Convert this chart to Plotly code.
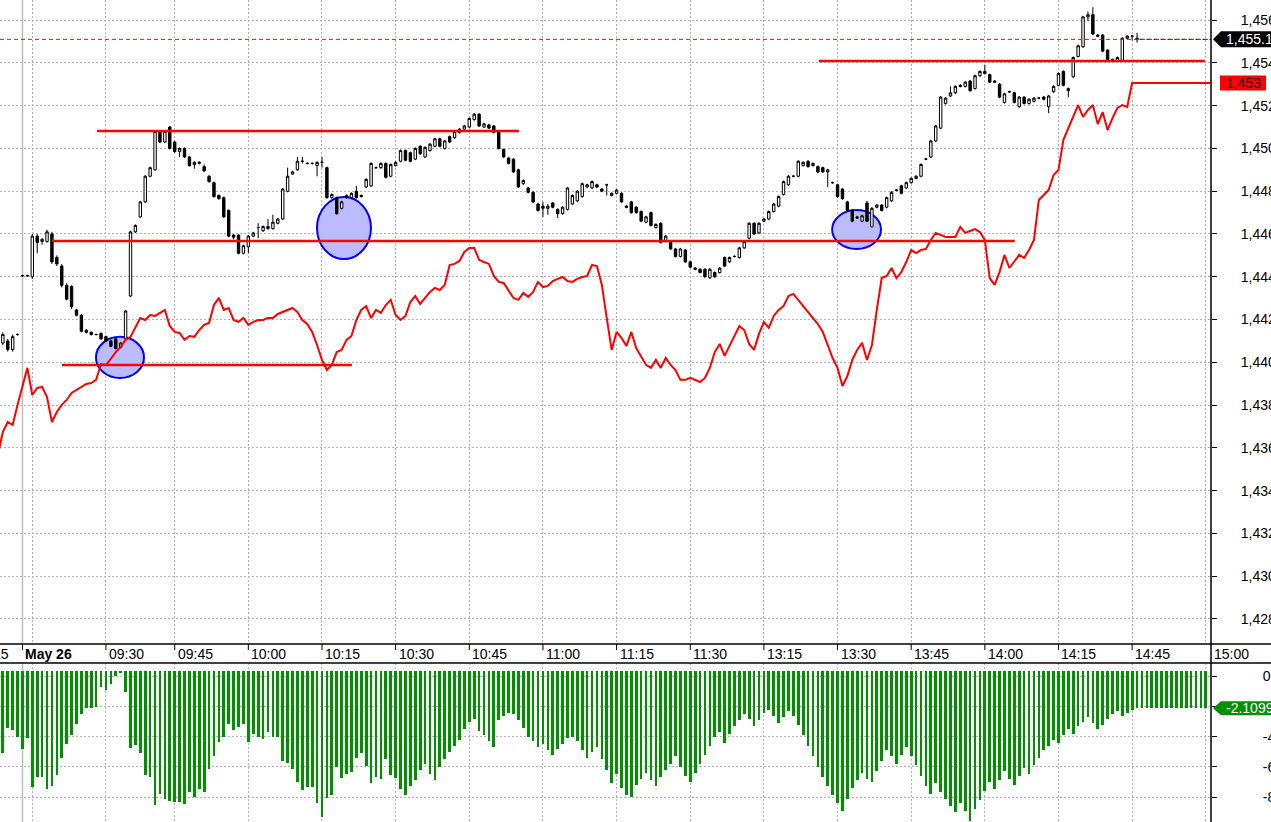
import plotly.graph_objects as go

# ---------------- data ----------------
candle_start = -6   # bar index of first candle (1-minute bars)
opens = [
    1440.9, 1441.0, 1440.6, 1441.3, 1444.05, 1444.05, 1444.0, 1445.9, 1445.65, 1445.65,
    1446.0, 1444.9, 1444.5, 1443.6, 1443.55, 1442.45, 1442.2, 1441.5, 1441.4, 1441.3,
    1441.35, 1441.2, 1441.0, 1441.1, 1440.7, 1441.1, 1443.1, 1446.1, 1446.8, 1447.5,
    1448.7, 1449.0, 1450.8, 1450.3, 1451.0, 1450.3, 1449.85, 1450.0, 1449.6, 1449.25,
    1449.3, 1449.15, 1448.7, 1448.4, 1447.8, 1447.7, 1447.1, 1445.95, 1445.95, 1445.1,
    1445.4, 1445.9, 1446.3, 1446.15, 1446.25, 1446.25, 1446.5, 1446.7, 1448.0, 1448.8,
    1449.0, 1449.4, 1449.3, 1449.3, 1449.2, 1449.35, 1449.1, 1447.7, 1447.7, 1447.2,
    1447.7, 1447.7, 1448.0, 1447.75, 1448.2, 1448.25, 1449.1, 1449.1, 1449.3, 1448.7,
    1449.2, 1449.4, 1449.9, 1449.8, 1449.5, 1450.1, 1449.6, 1449.9, 1450.1, 1450.45,
    1450.0, 1450.55, 1450.5, 1450.75, 1450.9, 1451.0, 1451.35, 1451.6, 1451.0, 1451.1,
    1451.05, 1450.8, 1449.95, 1449.55, 1449.5, 1449.0, 1448.35, 1448.15, 1447.95, 1447.4,
    1447.3, 1447.2, 1447.45, 1447.15, 1446.95, 1447.15, 1447.4, 1447.55, 1447.75, 1448.2,
    1448.15, 1448.3, 1448.1, 1448.3, 1447.8, 1447.9, 1447.9, 1447.3, 1447.5, 1447.25,
    1447.05, 1446.55, 1447.0, 1446.3, 1446.5, 1445.65, 1445.65, 1445.3, 1444.95, 1445.25,
    1444.7, 1444.4, 1444.35, 1444.35, 1443.95, 1444.2, 1444.2, 1444.9, 1444.7, 1444.95,
    1444.9, 1445.35, 1445.8, 1446.5, 1446.05, 1446.6, 1446.7, 1447.05, 1447.3, 1447.85,
    1448.3, 1448.7, 1448.7, 1449.2, 1449.4, 1449.2, 1449.15, 1449.1, 1448.9, 1448.4,
    1448.3, 1448.1, 1447.5, 1447.1, 1446.8, 1446.6, 1447.45, 1446.35, 1447.25, 1447.35,
    1447.25, 1447.55, 1448.05, 1448.25, 1448.15, 1448.4, 1448.6, 1448.7, 1449.5, 1449.6,
    1450.35, 1450.95, 1452.1, 1452.45, 1452.6, 1452.95, 1452.9, 1453.15, 1452.8, 1453.4,
    1453.6, 1453.45, 1453.15, 1453.0, 1452.15, 1452.65, 1452.6, 1451.95, 1452.4, 1452.1,
    1452.2, 1452.35, 1452.4, 1451.95, 1452.65, 1452.95, 1453.6, 1452.7, 1453.35, 1454.3,
    1454.75, 1456.15, 1456.25, 1455.3, 1455.3, 1454.6, 1454.15, 1454.1, 1454.1, 1455.15,
    1455.25, 1455.15,
]
highs = [
    1441.4, 1441.1, 1441.3, 1441.35, 1444.1, 1444.1, 1446.0, 1446.0, 1445.8, 1446.2,
    1446.1, 1445.0, 1444.6, 1443.7, 1443.6, 1442.5, 1442.25, 1441.55, 1441.45, 1441.35,
    1441.4, 1441.25, 1441.05, 1441.15, 1440.95, 1442.45, 1446.15, 1446.45, 1447.55, 1448.75,
    1449.15, 1450.85, 1450.85, 1450.85, 1451.05, 1450.35, 1450.05, 1450.05, 1449.65, 1449.4,
    1449.4, 1449.25, 1448.75, 1448.45, 1447.85, 1447.75, 1447.15, 1446.0, 1446.0, 1445.5,
    1445.95, 1446.1, 1446.5, 1446.4, 1446.7, 1446.9, 1446.75, 1448.15, 1449.1, 1448.95,
    1449.6, 1449.6, 1449.35, 1449.35, 1449.4, 1449.6, 1449.15, 1447.9, 1447.75, 1447.55,
    1447.85, 1447.95, 1448.25, 1447.85, 1448.6, 1449.35, 1449.15, 1449.35, 1449.35, 1449.3,
    1449.4, 1449.95, 1449.95, 1449.85, 1450.05, 1450.15, 1450.1, 1450.25, 1450.5, 1450.5,
    1450.4, 1450.6, 1450.85, 1450.95, 1451.1, 1451.45, 1451.65, 1451.65, 1451.2, 1451.15,
    1451.1, 1450.85, 1450.0, 1449.6, 1449.55, 1449.05, 1448.55, 1448.2, 1448.0, 1447.45,
    1447.5, 1447.4, 1447.5, 1447.2, 1447.3, 1448.2, 1447.85, 1448.05, 1448.4, 1448.35,
    1448.5, 1448.35, 1448.15, 1448.35, 1447.95, 1448.1, 1447.95, 1447.35, 1447.55, 1447.3,
    1447.1, 1446.85, 1447.05, 1446.5, 1446.55, 1445.95, 1445.7, 1445.35, 1445.35, 1445.3,
    1444.75, 1444.45, 1444.4, 1444.4, 1444.4, 1444.25, 1444.45, 1444.95, 1444.95, 1445.0,
    1445.4, 1445.7, 1446.55, 1446.55, 1446.55, 1446.75, 1447.1, 1447.45, 1447.8, 1448.5,
    1448.75, 1448.75, 1449.45, 1449.4, 1449.45, 1449.35, 1449.2, 1449.15, 1449.05, 1448.45,
    1448.35, 1448.15, 1447.55, 1447.15, 1446.85, 1446.9, 1447.55, 1447.25, 1447.4, 1447.4,
    1447.75, 1448.0, 1448.1, 1448.3, 1448.45, 1448.65, 1448.75, 1449.3, 1449.55, 1450.4,
    1451.1, 1452.45, 1452.4, 1452.9, 1452.95, 1453.0, 1453.15, 1453.2, 1453.45, 1453.65,
    1453.9, 1453.5, 1453.2, 1453.05, 1452.6, 1452.7, 1452.65, 1452.45, 1452.45, 1452.35,
    1452.4, 1452.4, 1452.45, 1452.5, 1452.95, 1453.55, 1453.65, 1452.85, 1454.3, 1454.85,
    1456.2, 1456.4, 1456.6, 1455.35, 1455.35, 1454.65, 1454.2, 1454.3, 1455.2, 1455.3,
    1455.3, 1455.4,
]
lows = [
    1440.8, 1440.5, 1440.5, 1441.25, 1444.0, 1444.0, 1443.9, 1445.1, 1445.5, 1445.6,
    1444.6, 1444.5, 1443.5, 1442.9, 1442.5, 1442.15, 1441.4, 1441.35, 1441.25, 1441.25,
    1441.05, 1440.95, 1440.7, 1440.6, 1440.65, 1441.05, 1443.05, 1446.05, 1446.75, 1447.45,
    1448.65, 1448.95, 1450.25, 1450.25, 1449.95, 1449.8, 1449.6, 1449.55, 1449.15, 1449.05,
    1449.25, 1448.9, 1448.4, 1447.7, 1447.6, 1446.75, 1445.85, 1445.75, 1445.05, 1445.05,
    1445.1, 1445.85, 1445.8, 1446.1, 1446.2, 1446.2, 1446.45, 1446.65, 1447.95, 1448.75,
    1448.95, 1449.3, 1449.25, 1449.25, 1448.7, 1449.1, 1447.65, 1447.65, 1446.9, 1447.15,
    1447.65, 1447.65, 1447.65, 1447.7, 1448.15, 1448.2, 1449.05, 1449.05, 1448.6, 1448.65,
    1449.15, 1449.35, 1449.4, 1449.35, 1449.45, 1449.7, 1449.55, 1449.85, 1450.05, 1450.05,
    1449.95, 1450.25, 1450.45, 1450.7, 1450.85, 1450.95, 1451.3, 1451.0, 1450.95, 1450.9,
    1450.7, 1449.95, 1449.55, 1449.25, 1448.85, 1448.15, 1448.3, 1447.9, 1447.45, 1447.05,
    1446.8, 1446.9, 1447.2, 1446.75, 1446.9, 1447.1, 1447.35, 1447.5, 1447.7, 1448.15,
    1448.1, 1448.15, 1447.95, 1447.8, 1447.75, 1447.85, 1447.45, 1447.2, 1446.95, 1446.95,
    1446.55, 1446.5, 1446.35, 1446.25, 1445.55, 1445.6, 1445.25, 1444.9, 1444.9, 1444.65,
    1444.4, 1444.3, 1444.15, 1443.95, 1443.9, 1443.95, 1444.15, 1444.45, 1444.65, 1444.9,
    1444.85, 1445.3, 1445.75, 1445.95, 1446.0, 1446.55, 1446.65, 1447.0, 1447.25, 1447.8,
    1448.25, 1448.65, 1448.65, 1449.15, 1449.1, 1449.15, 1448.85, 1448.85, 1448.2, 1448.35,
    1447.7, 1447.6, 1447.05, 1446.55, 1446.7, 1446.55, 1446.55, 1446.3, 1447.2, 1447.05,
    1447.2, 1447.5, 1448.0, 1447.85, 1448.1, 1448.35, 1448.55, 1448.65, 1449.45, 1449.55,
    1450.3, 1450.9, 1452.05, 1452.4, 1452.55, 1452.85, 1452.85, 1452.65, 1452.75, 1453.35,
    1453.45, 1453.05, 1453.05, 1452.35, 1452.1, 1452.6, 1452.1, 1451.9, 1452.05, 1452.05,
    1452.15, 1452.3, 1452.25, 1451.65, 1452.6, 1452.9, 1452.9, 1452.4, 1453.3, 1454.25,
    1454.7, 1455.95, 1455.3, 1455.2, 1454.5, 1454.1, 1454.1, 1454.05, 1454.05, 1455.1,
    1455.05, 1454.95,
]
closes = [
    1441.3, 1440.6, 1441.2, 1441.3, 1444.05, 1444.05, 1445.9, 1445.6, 1445.75, 1446.1,
    1444.7, 1444.6, 1443.6, 1442.95, 1442.6, 1442.2, 1441.45, 1441.4, 1441.3, 1441.3,
    1441.1, 1441.0, 1440.75, 1440.65, 1440.9, 1442.4, 1446.1, 1446.4, 1447.5, 1448.7,
    1449.1, 1450.8, 1450.3, 1450.8, 1450.0, 1449.85, 1450.0, 1449.6, 1449.2, 1449.35,
    1449.35, 1448.95, 1448.45, 1447.75, 1447.65, 1446.8, 1445.9, 1445.85, 1445.1, 1445.45,
    1445.9, 1446.05, 1446.3, 1446.35, 1446.35, 1446.55, 1446.7, 1448.1, 1448.7, 1448.9,
    1449.4, 1449.4, 1449.3, 1449.3, 1449.35, 1449.35, 1447.7, 1447.85, 1446.95, 1447.5,
    1447.8, 1447.9, 1447.7, 1447.8, 1448.55, 1449.3, 1449.1, 1449.3, 1448.65, 1449.25,
    1449.35, 1449.9, 1449.45, 1449.4, 1450.0, 1449.75, 1450.05, 1450.2, 1450.45, 1450.1,
    1450.35, 1450.3, 1450.8, 1450.9, 1451.05, 1451.4, 1451.6, 1451.05, 1451.15, 1450.95,
    1450.75, 1450.0, 1449.6, 1449.3, 1448.9, 1448.2, 1448.5, 1447.95, 1447.5, 1447.1,
    1447.2, 1447.3, 1447.25, 1446.95, 1447.25, 1448.15, 1447.8, 1448.0, 1448.35, 1448.3,
    1448.45, 1448.2, 1448.0, 1448.3, 1447.9, 1448.05, 1447.5, 1447.25, 1447.0, 1447.0,
    1446.6, 1446.8, 1446.4, 1446.45, 1445.6, 1445.9, 1445.3, 1444.95, 1445.3, 1444.7,
    1444.45, 1444.35, 1444.2, 1444.0, 1444.35, 1444.0, 1444.4, 1444.5, 1444.9, 1444.95,
    1445.35, 1445.65, 1446.5, 1446.0, 1446.5, 1446.7, 1447.05, 1447.4, 1447.75, 1448.45,
    1448.7, 1448.7, 1449.4, 1449.35, 1449.15, 1449.3, 1448.9, 1448.9, 1449.0, 1448.4,
    1447.75, 1447.65, 1447.1, 1446.6, 1446.75, 1446.85, 1446.6, 1447.2, 1447.35, 1447.1,
    1447.7, 1447.95, 1448.05, 1447.9, 1448.4, 1448.6, 1448.7, 1449.25, 1449.5, 1450.35,
    1451.05, 1452.4, 1452.35, 1452.6, 1452.9, 1452.9, 1453.1, 1452.7, 1453.4, 1453.6,
    1453.5, 1453.1, 1453.1, 1452.4, 1452.55, 1452.65, 1452.15, 1452.4, 1452.1, 1452.3,
    1452.35, 1452.35, 1452.3, 1452.45, 1452.9, 1453.5, 1452.95, 1452.8, 1454.25, 1454.8,
    1456.15, 1456.25, 1455.35, 1455.25, 1454.55, 1454.15, 1454.15, 1454.25, 1455.15, 1455.25,
    1455.25, 1455.1,
]

red_start = -7
red_vals = [
    1435.67, 1436.74, 1437.21, 1437.07, 1438.01, 1438.94, 1439.74, 1438.47, 1438.80, 1438.85,
    1438.38, 1437.21, 1437.68, 1438.01, 1438.24, 1438.57, 1438.71, 1438.89, 1438.99, 1439.03,
    1439.18, 1439.92, 1439.88, 1440.16, 1440.48, 1440.72, 1441.05, 1441.19, 1441.65, 1442.07,
    1441.98, 1442.21, 1442.17, 1442.31, 1442.45, 1441.70, 1441.42, 1441.37, 1441.05, 1441.23,
    1441.19, 1441.51, 1441.75, 1441.84, 1442.68, 1443.01, 1442.45, 1442.54, 1441.98, 1441.89,
    1442.07, 1441.75, 1441.89, 1441.98, 1441.98, 1442.07, 1442.07, 1442.26, 1442.35, 1442.45,
    1442.54, 1442.35, 1441.98, 1441.79, 1441.42, 1440.81, 1440.11, 1439.64, 1439.88, 1440.48,
    1440.58, 1441.05, 1441.23, 1441.98, 1442.45, 1442.63, 1442.07, 1442.45, 1442.31, 1442.68,
    1442.92, 1442.21, 1441.98, 1442.17, 1442.82, 1443.10, 1442.73, 1443.01, 1443.29, 1443.48,
    1443.38, 1443.62, 1444.55, 1444.60, 1444.74, 1445.16, 1445.35, 1445.35, 1444.79, 1444.69,
    1444.60, 1444.04, 1443.76, 1443.71, 1443.38, 1443.01, 1442.92, 1443.24, 1443.06, 1443.29,
    1443.76, 1443.52, 1443.57, 1443.80, 1443.90, 1443.99, 1443.80, 1443.76, 1443.90, 1443.99,
    1444.04, 1444.55, 1444.50, 1443.62, 1442.07, 1440.58, 1441.42, 1441.14, 1440.76, 1441.42,
    1440.67, 1440.30, 1439.88, 1439.74, 1440.11, 1439.74, 1440.20, 1439.88, 1439.64, 1439.18,
    1439.18, 1439.27, 1439.18, 1439.08, 1439.27, 1439.74, 1440.48, 1440.86, 1440.30, 1440.76,
    1441.28, 1441.70, 1441.51, 1440.86, 1440.58, 1441.33, 1441.89, 1441.61, 1442.17, 1442.45,
    1442.63, 1443.10, 1443.20, 1442.92, 1442.63, 1442.35, 1442.07, 1441.79, 1441.42, 1440.81,
    1440.20, 1439.74, 1438.89, 1439.36, 1440.11, 1440.58, 1440.91, 1440.11, 1440.81, 1442.45,
    1443.94, 1444.04, 1444.41, 1443.94, 1444.22, 1444.69, 1445.25, 1445.11, 1445.25, 1445.30,
    1445.72, 1446.05, 1445.95, 1445.86, 1445.86, 1445.86, 1446.33, 1446.05, 1446.14, 1446.23,
    1446.09, 1445.72, 1443.94, 1443.62, 1444.22, 1445.02, 1444.41, 1444.69, 1445.02, 1444.88,
    1445.25, 1445.72, 1447.59, 1447.82, 1448.06, 1448.76, 1448.99, 1450.40, 1450.96, 1451.56,
    1452.03, 1451.47, 1451.80, 1452.03, 1451.14, 1451.70, 1450.86, 1451.42, 1451.89, 1452.03,
    1451.94,
    1453.06, 1453.06, 1453.06, 1453.06, 1453.06, 1453.06, 1453.06, 1453.06, 1453.06, 1453.06,
    1453.06, 1453.06, 1453.06, 1453.06, 1453.06, 1453.06, 1453.06,
]

hist_start = -6
hist_base = 0.365
hist_vals = [
    -5.05, -3.39, -3.54, -3.99, -4.80, -4.05, -7.32, -6.70, -6.70, -7.50,
    -7.30, -6.57, -5.38, -4.45, -3.87, -3.13, -2.46, -2.07, -2.07, -2.00,
    -0.68, -0.89, -0.48, 0.05, 0.25, -1.01, -4.78, -4.58, -5.11, -6.57,
    -6.64, -8.56, -7.83, -8.16, -8.29, -8.36, -8.36, -8.49, -7.70, -8.03,
    -7.50, -7.70, -6.17, -5.31, -4.32, -3.99, -3.13, -3.52, -3.32, -3.13,
    -4.38, -3.85, -3.99, -4.12, -3.66, -3.99, -3.99, -5.64, -5.77, -6.17,
    -7.03, -7.56, -7.36, -7.36, -8.42, -9.35, -8.09, -7.89, -6.04, -6.77,
    -6.44, -6.37, -5.38, -5.05, -5.91, -7.10, -6.64, -6.83, -5.51, -6.57,
    -6.77,
    -7.5, -7.9, -7.3, -6.9, -6.2, -5.8, -6.5, -6.9, -6.0, -5.5,
    -5.0, -4.6, -4.2, -3.5, -3.0, -2.8, -3.6, -3.9, -4.3, -4.7,
    -2.9, -2.6, -2.4, -2.5, -2.9, -3.4, -4.0, -4.3, -4.7, -4.5,
    -4.9, -5.2, -4.8, -4.5, -4.1, -4.0, -4.3, -4.9, -5.4, -5.0,
    -4.7, -5.5, -6.2, -7.1, -6.5, -7.4, -7.9, -8.0, -7.2, -6.8,
    -6.4, -6.9, -7.3, -6.7, -6.2, -5.8, -5.3, -6.0, -6.6, -7.0,
    -6.4, -5.8, -5.2, -4.6, -4.0, -3.7, -4.4, -3.8, -3.3, -2.9,
    -2.5, -2.8, -3.3, -2.9, -2.4, -2.2, -2.6, -3.1, -2.7, -2.3,
    -2.6, -3.2, -3.9, -4.6, -5.3, -6.0, -6.7, -7.3, -7.9, -8.4,
    -8.9, -8.1, -7.4, -6.9, -6.4, -6.8, -7.0, -6.3, -5.6, -4.9,
    -5.3, -5.8, -5.2, -4.7, -5.3, -5.9, -6.6, -7.3, -7.8, -7.1,
    -7.7, -8.1, -8.6, -9.0, -8.4, -8.9, -9.6, -8.8, -8.2, -7.6,
    -7.0, -7.5, -6.9, -6.3, -6.8, -7.2, -6.6, -6.1, -6.5, -5.9,
    -5.4, -4.9, -4.6, -4.2, -4.4, -3.9, -3.5, -3.8, -3.3, -3.0,
    -2.7, -3.1, -3.5, -3.2, -2.8, -2.5, -2.3, -2.6, -2.4, -2.2,
    -2.1099, -2.1099, -2.1099, -2.1099, -2.1099, -2.1099, -2.1099, -2.1099,
    -2.1099, -2.1099, -2.1099, -2.1099, -2.1099, -2.1099, -2.1099,
]

# support / resistance levels and their extent (bar index)
level_price = [1450.82, 1445.67, 1439.88, 1454.09]
level_from = [13.2, 4.0, 6.05, 160.2]
level_to = [99.1, 200.1, 65.1, 238.8]

# highlighted zones (ellipses)
zone_x0 = [12.97, 57.98, 162.9]
zone_x1 = [22.75, 68.98, 172.85]
zone_y0 = [1439.27, 1444.83, 1445.30]
zone_y1 = [1441.19, 1447.73, 1447.12]

time_idx = [-2, 15, 29, 44, 59, 74, 89, 104, 119, 134, 149, 164, 179, 194, 209, 224, 240.06]
time_txt = ["<b>May 26</b>", "09:30", "09:45", "10:00", "10:15", "10:30", "10:45", "11:00",
            "11:15", "11:30", "13:15", "13:30", "13:45", "14:00", "14:15", "14:45", "15:00"]
grid_idx = [0, 15, 29, 44, 59, 74, 89, 104, 119, 134, 149, 164, 179, 194, 209, 224, 239]
price_ticks = [1428, 1430, 1432, 1434, 1436, 1438, 1440, 1442, 1444, 1446, 1448, 1450, 1452, 1454, 1456]
osc_ticks = [0, -2, -4, -6, -8]
osc_text = ["0", "", "-4", "-6", "-8"]
day_sep = -2.0

# ---------------- layout constants ----------------
W, H = 1271, 822
PLOT_W = 1211
X_RANGE = [-6.578, 240.06]
MAIN_DOM = [1 - 644 / H, 1]
OSC_DOM = [0, 1 - 663 / H]
FONT = "Liberation Sans, Arial, sans-serif"
GRID = "#B4B4B4"

def px(p):
    return p / PLOT_W

def py(p):
    return 1 - p / H

cx = list(range(candle_start, candle_start + len(opens)))
rx = list(range(red_start, red_start + len(red_vals)))
hx = list(range(hist_start, hist_start + len(hist_vals)))

fig = go.Figure()
fig.add_trace(go.Candlestick(
    x=cx, open=opens, high=highs, low=lows, close=closes,
    increasing=dict(line=dict(color="black", width=1), fillcolor="white"),
    decreasing=dict(line=dict(color="black", width=1), fillcolor="black"),
    whiskerwidth=0, xaxis="x", yaxis="y", hoverinfo="skip"))
fig.add_trace(go.Scatter(x=rx, y=red_vals, mode="lines",
                         line=dict(color="#FF0000", width=2), xaxis="x", yaxis="y",
                         hoverinfo="skip"))
last = closes[-1]
fig.add_trace(go.Scatter(x=[cx[-1] + 0.5, X_RANGE[1]], y=[last, last], mode="lines",
                         line=dict(color="black", width=1, dash="4px,3px"),
                         xaxis="x", yaxis="y", hoverinfo="skip"))
fig.add_trace(go.Bar(x=hx, y=[v - hist_base for v in hist_vals], base=hist_base, width=0.55,
                     marker=dict(color="#009000", line=dict(width=0)),
                     xaxis="x2", yaxis="y2", hoverinfo="skip"))

shapes = []
for a, b, c, d in zip(zone_x0, zone_x1, zone_y0, zone_y1):
    shapes.append(dict(type="circle", xref="x", yref="y", x0=a, x1=b, y0=c, y1=d,
                       fillcolor="#BBBBFF", line=dict(color="#0000FF", width=2), layer="between"))
for lp, a, b in zip(level_price, level_from, level_to):
    shapes.append(dict(type="line", xref="x", yref="y", x0=a, x1=b, y0=lp, y1=lp,
                       line=dict(color="#FF0000", width=2.5), layer="above"))
# last price dotted line
shapes.append(dict(type="line", xref="paper", yref="y", x0=0, x1=1, y0=last, y1=last,
                   line=dict(color="#FF0000", width=1, dash="4px,3px")))
# day separator
for y0, y1 in (MAIN_DOM, OSC_DOM):
    shapes.append(dict(type="line", xref="x", yref="paper", x0=day_sep, x1=day_sep, y0=y0, y1=y1,
                       line=dict(color="#BEBEBE", width=1.5), layer="below"))
# time strip borders and right axis line
for yy in (MAIN_DOM[0], OSC_DOM[1]):
    shapes.append(dict(type="line", xref="paper", yref="paper", x0=0, x1=px(W + 5), y0=yy, y1=yy,
                       line=dict(color="black", width=1.5)))
shapes.append(dict(type="line", xref="paper", yref="paper", x0=1, x1=1, y0=0, y1=1,
                   line=dict(color="black", width=1.5)))
for t in time_idx[:-1]:
    shapes.append(dict(type="line", xref="x", yref="paper", x0=t, x1=t, y0=MAIN_DOM[0], y1=py(650),
                       line=dict(color="black", width=1)))

# value tags
hh = 0.374
shapes.append(dict(type="path", xref="paper", yref="y",
                   path=f"M {px(1213)},{last} L {px(1221)},{last + hh} L {px(1276)},{last + hh} "
                        f"L {px(1276)},{last - hh} L {px(1221)},{last - hh} Z",
                   fillcolor="black", line=dict(width=0)))
red_last = red_vals[-1]
shapes.append(dict(type="rect", xref="paper", yref="y", x0=px(1220), x1=px(1266),
                   y0=red_last - 0.35, y1=red_last + 0.35, fillcolor="#FF0000", line=dict(width=0)))
osc_last = hist_vals[-1]
gh = 0.465
shapes.append(dict(type="path", xref="paper", yref="y2",
                   path=f"M {px(1213)},{osc_last} L {px(1221)},{osc_last + gh} L {px(1276)},{osc_last + gh} "
                        f"L {px(1276)},{osc_last - gh} L {px(1221)},{osc_last - gh} Z",
                   fillcolor="#009000", line=dict(width=0)))

annotations = []
for t, s in zip(time_idx, time_txt):
    annotations.append(dict(x=t, xref="x", y=py(654), yref="paper", text=s, showarrow=False,
                            xanchor="left", yanchor="middle", xshift=1,
                            font=dict(family=FONT, size=14, color="black")))
annotations.append(dict(x=-4.25, xref="x", y=py(654), yref="paper", text="15", showarrow=False,
                        xanchor="right", yanchor="middle",
                        font=dict(family=FONT, size=14, color="black")))
annotations.append(dict(x=px(1224), xref="paper", y=last, yref="y", text=f"{last:,.1f}",
                        showarrow=False, xanchor="left", yanchor="middle",
                        font=dict(family=FONT, size=14, color="white")))
annotations.append(dict(x=px(1243), xref="paper", y=red_last, yref="y", text=f"{red_last:,.0f}",
                        showarrow=False, xanchor="center", yanchor="middle",
                        font=dict(family=FONT, size=14, color="#200000")))
annotations.append(dict(x=px(1224), xref="paper", y=osc_last, yref="y2", text=f"{osc_last:.4f}",
                        showarrow=False, xanchor="left", yanchor="middle",
                        font=dict(family=FONT, size=14, color="white")))

axis_common = dict(range=X_RANGE, showticklabels=False, ticks="", tickvals=grid_idx,
                   showgrid=True, gridcolor=GRID, griddash="2px,2px", gridwidth=1,
                   zeroline=False, showline=False, fixedrange=True, automargin=False)

fig.update_layout(
    width=W, height=H,
    margin=dict(l=0, r=W - PLOT_W, t=0, b=0, pad=0, autoexpand=False),
    paper_bgcolor="white", plot_bgcolor="white",
    showlegend=False,
    xaxis=dict(domain=[0, 1], anchor="y", rangeslider=dict(visible=False), **axis_common),
    xaxis2=dict(domain=[0, 1], anchor="y2", matches="x", **axis_common),
    yaxis=dict(domain=MAIN_DOM, range=[1426.83, 1456.94], side="right", anchor="x",
               tickvals=price_ticks, tickformat=",d", ticks="outside", ticklen=5,
               tickcolor="black", showgrid=True, gridcolor=GRID, griddash="2px,2px",
               zeroline=False, showline=False, ticklabelstandoff=21, fixedrange=True,
               automargin=False,
               tickfont=dict(family=FONT, size=14, color="black")),
    yaxis2=dict(domain=OSC_DOM, range=[-9.66, 0.896], side="right", anchor="x2",
                tickvals=osc_ticks, ticktext=osc_text, ticks="outside", ticklen=5,
                tickcolor="black", showgrid=True, gridcolor=GRID, griddash="2px,2px",
                zeroline=False, showline=False, ticklabelstandoff=43, fixedrange=True,
                automargin=False,
                tickfont=dict(family=FONT, size=14, color="black")),
    shapes=shapes,
    annotations=annotations,
    bargap=0,
)

fig.write_html("out.html", config={"displayModeBar": False},
               post_script="document.body.style.margin='0px';document.body.style.overflow='hidden';")
